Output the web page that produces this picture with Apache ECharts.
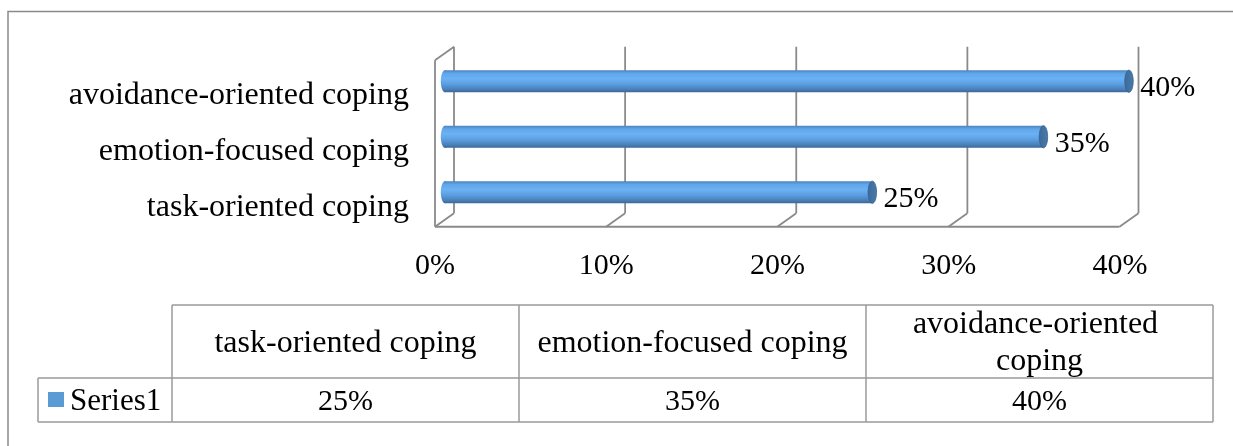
<!DOCTYPE html>
<html>
<head>
<meta charset="utf-8">
<script src="https://cdn.jsdelivr.net/npm/echarts@6/dist/echarts.min.js"></script>
<style>
  html, body { margin: 0; padding: 0; background: #ffffff; }
  #chart { width: 1233px; height: 446px; }
</style>
</head>
<body>
<div id="chart"></div>
<script>
// Coping strategies, shares of respondents (bottom to top on the chart)
const categories = ['task-oriented coping', 'emotion-focused coping', 'avoidance-oriented coping'];
const seriesName = 'Series1';
const values = [25, 35, 40];
const axisTicks = [0, 10, 20, 30, 40];

const SERIF = "'Liberation Serif', 'Times New Roman', serif";
const FRAME = '#8a8a8a';
// half of the 3D depth shift (back wall = +, front edge = -)
const DX = 9.5, DY = -6.75;

const pct = v => v + '%';

const chart = echarts.init(document.getElementById('chart'), null, { renderer: 'canvas' });

// cylinder bar shading
const barFill = new echarts.graphic.LinearGradient(0, 0, 0, 1, [
  { offset: 0, color: '#4a82be' },
  { offset: 0.15, color: '#61a6e8' },
  { offset: 0.38, color: '#6ab2f4' },
  { offset: 0.62, color: '#5c9fe1' },
  { offset: 0.86, color: '#4a80bb' },
  { offset: 1, color: '#3a6795' }
]);
const capFill = new echarts.graphic.LinearGradient(0, 0, 1, 0, [
  { offset: 0, color: '#3b6a9a' },
  { offset: 1, color: '#4a7aab' }
]);

function renderBar(params, api) {
  const cat = api.value(1);
  const v = api.value(0);
  const start = api.coord([0, cat]);
  const end = api.coord([v, cat]);
  const band = api.size([0, 1])[1];
  const h = band * 0.4;
  const rx = h * 0.19;
  const y0 = start[1] - h / 2;
  return {
    type: 'group',
    children: [
      { type: 'ellipse', shape: { cx: start[0] + 0.5, cy: start[1], rx: rx, ry: h / 2 },
        style: { fill: barFill } },
      { type: 'rect', shape: { x: start[0], y: y0, width: end[0] - start[0], height: h },
        style: { fill: barFill } },
      { type: 'ellipse', shape: { cx: end[0], cy: end[1], rx: rx, ry: h / 2 },
        style: { fill: capFill, stroke: '#35628f', lineWidth: 0.8 } },
      { type: 'text', x: end[0] + rx + 7, y: end[1] + 7,
        style: { text: pct(v), fill: '#000', font: '30px ' + SERIF,
                 align: 'left', verticalAlign: 'middle' } }
    ]
  };
}

function renderFrame(params, api) {
  const t = api.value(0);
  const cs = params.coordSys;
  const p = api.coord([t, 0]);
  const top = cs.y, bottom = cs.y + cs.height;
  const bx = p[0] + DX, fx = p[0] - DX;
  const lineStyle = { stroke: FRAME, lineWidth: 1.8 };
  const kids = [
    { type: 'line', shape: { x1: bx, y1: top + DY, x2: bx, y2: bottom + DY }, style: lineStyle },
    { type: 'line', shape: { x1: bx, y1: bottom + DY, x2: fx, y2: bottom - DY }, style: lineStyle }
  ];
  if (params.dataIndex === 0) {
    const last = api.coord([axisTicks[axisTicks.length - 1], 0]);
    kids.push(
      { type: 'line', shape: { x1: fx, y1: top - DY, x2: fx, y2: bottom - DY }, style: lineStyle },
      { type: 'line', shape: { x1: fx, y1: top - DY, x2: bx, y2: top + DY }, style: lineStyle },
      { type: 'line', shape: { x1: fx, y1: bottom - DY, x2: last[0] - DX, y2: bottom - DY }, style: lineStyle }
    );
  }
  return { type: 'group', children: kids };
}

// data table under the plot
const tbl = { left: 38, keyRight: 172, right: 1213, top: 305, mid: 378, bottom: 422 };
const colW = (tbl.right - tbl.keyRight) / categories.length;
const tableGraphics = [];
const hl = (x1, x2, y) => tableGraphics.push({ type: 'line', shape: { x1, y1: y, x2, y2: y },
  style: { stroke: '#9a9a9a', lineWidth: 1.5 } });
const vl = (x, y1, y2) => tableGraphics.push({ type: 'line', shape: { x1: x, y1, x2: x, y2 },
  style: { stroke: '#9a9a9a', lineWidth: 1.5 } });
hl(tbl.keyRight, tbl.right, tbl.top);
hl(tbl.left, tbl.right, tbl.mid);
hl(tbl.left, tbl.right, tbl.bottom);
vl(tbl.left, tbl.mid, tbl.bottom);
for (let i = 0; i <= categories.length; i++) vl(tbl.keyRight + i * colW, tbl.top, tbl.bottom);
categories.forEach((c, i) => {
  const cx = tbl.keyRight + (i + 0.5) * colW;
  tableGraphics.push({ type: 'text', x: cx, y: (tbl.top + tbl.mid) / 2 + 2,
    style: { text: c, width: 325, overflow: 'break', lineHeight: 37, fill: '#000',
             font: '32px ' + SERIF, align: 'center', verticalAlign: 'middle' } });
  tableGraphics.push({ type: 'text', x: cx, y: (tbl.mid + tbl.bottom) / 2 + 2,
    style: { text: pct(values[i]), fill: '#000', font: '30px ' + SERIF,
             align: 'center', verticalAlign: 'middle' } });
});
tableGraphics.push({ type: 'rect', shape: { x: 48, y: 392, width: 16, height: 15 },
  style: { fill: '#5b9bd5' } });
tableGraphics.push({ type: 'text', x: 70, y: (tbl.mid + tbl.bottom) / 2 + 2,
  style: { text: seriesName, fill: '#000', font: '31px ' + SERIF,
           align: 'left', verticalAlign: 'middle' } });
// chart area border
tableGraphics.push({ type: 'rect', z: -1, shape: { x: 8, y: 11.5, width: 1260, height: 460 },
  style: { fill: 'none', stroke: '#8a8a8a', lineWidth: 1.5 } });

chart.setOption({
  animation: false,
  backgroundColor: '#ffffff',
  grid: [
    // front plane: carries the axis labels
    { left: 435, right: 113, top: 60, bottom: 219 },
    // middle plane: bars
    { left: 444.5, right: 104, top: 53.5, bottom: 226 }
  ],
  xAxis: [
    { type: 'value', gridIndex: 0, min: 0, max: 40, interval: 10,
      axisLine: { show: false }, axisTick: { show: false }, splitLine: { show: false },
      axisLabel: { formatter: '{value}%', color: '#000', fontSize: 30, fontFamily: SERIF, margin: 24 } },
    { type: 'value', gridIndex: 1, min: 0, max: 40, interval: 10, show: false }
  ],
  yAxis: [
    { type: 'category', gridIndex: 0, data: categories,
      axisLine: { show: false }, axisTick: { show: false },
      axisLabel: { color: '#000', fontSize: 32, fontFamily: SERIF, margin: 26,
                   verticalAlign: 'top', lineHeight: 16 } },
    { type: 'category', gridIndex: 1, data: categories, show: false }
  ],
  graphic: tableGraphics,
  series: [
    { type: 'custom', name: 'frame', xAxisIndex: 1, yAxisIndex: 1, silent: true,
      renderItem: renderFrame, data: axisTicks.map(t => [t]), encode: { x: 0 }, z: 1 },
    { type: 'custom', name: seriesName, xAxisIndex: 1, yAxisIndex: 1,
      renderItem: renderBar, data: values.map((v, i) => [v, i]), encode: { x: 0, y: 1 }, z: 2 }
  ]
});
</script>
</body>
</html>
